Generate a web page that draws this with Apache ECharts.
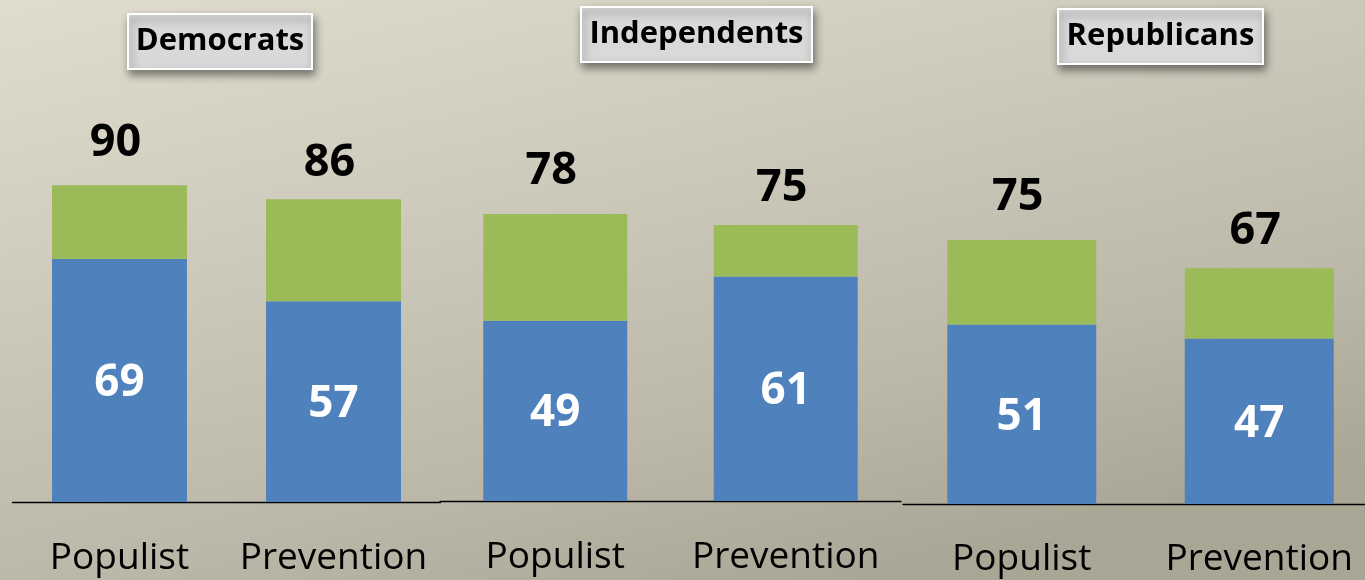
<!DOCTYPE html>
<html>
<head>
<meta charset="utf-8">
<script src="https://cdn.jsdelivr.net/npm/echarts@6/dist/echarts.min.js"></script>
<style>
html,body{margin:0;padding:0;}
#chart{width:1365px;height:580px;}
</style>
</head>
<body>
<div id="chart"></div>
<script>
// ---- data ----
const groups = ['Democrats', 'Independents', 'Republicans'];
const categories = ['Populist', 'Prevention'];
const blueValues = [[69, 57], [49, 61], [51, 47]];
const totalValues = [[90, 86], [78, 75], [75, 67]];

// ---- layout (per panel) ----
const panels = [
  { left: 12.5, width: 428, top: 150, height: 352, barWidth: 135, box: [127, 13, 184, 55], margin: 38 },
  { left: 440, width: 461, top: 133, height: 368, barWidth: 144, box: [580, 6, 231, 55], margin: 38 },
  { left: 903, width: 475, top: 152, height: 352, barWidth: 149, box: [1057, 8, 205, 55], margin: 37 }
];
const FONT = '"Open Sans", sans-serif';
const BLUE = '#4f81bd', GREEN = '#9bbb59';

const grid = [], xAxis = [], yAxis = [], series = [], graphic = [];
panels.forEach((p, i) => {
  grid.push({ left: p.left, top: p.top, width: p.width, height: p.height, outerBoundsMode: 'none', containLabel: false });
  xAxis.push({
    type: 'category', gridIndex: i, data: categories,
    axisLine: { show: true, lineStyle: { color: '#000', width: 1.3 } },
    axisTick: { show: false },
    axisLabel: { color: '#000', fontFamily: FONT, fontSize: 37, margin: p.margin, interval: 0 }
  });
  yAxis.push({ type: 'value', gridIndex: i, min: 0, max: 100, show: false, splitLine: { show: false } });
  const greens = totalValues[i].map((t, j) => t - blueValues[i][j]);
  series.push({
    type: 'bar', name: 'base' + i, stack: 's' + i, xAxisIndex: i, yAxisIndex: i,
    barWidth: p.barWidth, data: blueValues[i],
    itemStyle: { color: BLUE },
    label: { show: true, position: 'inside', color: '#fff', fontFamily: FONT, fontWeight: 'bold', fontSize: 44, offset: [0, 3] },
    silent: true
  });
  series.push({
    type: 'bar', name: 'top' + i, stack: 's' + i, xAxisIndex: i, yAxisIndex: i,
    barWidth: p.barWidth,
    data: greens.map((g, j) => ({
      value: g,
      label: { distance: j === 0 ? 20 : 14 }
    })),
    itemStyle: { color: GREEN },
    label: {
      show: true, position: 'top', color: '#000', fontFamily: FONT, fontWeight: 'bold', fontSize: 45,
      offset: [-4, 0],
      formatter: (prm) => String(totalValues[i][prm.dataIndex])
    },
    silent: true
  });
  const b = p.box;
  graphic.push({
    type: 'group', left: b[0], top: b[1],
    children: [
      { type: 'rect', shape: { x: 0, y: 0, width: b[2], height: b[3] },
        style: { fill: '#d9d9d9', stroke: '#ffffff', lineWidth: 2,
          shadowBlur: 8, shadowColor: 'rgba(0,0,0,0.45)', shadowOffsetX: 2, shadowOffsetY: 5 } },
      { type: 'text', x: b[2] / 2, y: b[3] / 2,
        style: { text: groups[i], fill: '#000', font: 'bold 31px ' + FONT, align: 'center', verticalAlign: 'middle' } }
    ]
  });
});

const chart = echarts.init(document.getElementById('chart'), null, { renderer: 'canvas' });
chart.setOption({
  animation: false,
  backgroundColor: {
    type: 'linear', x: 0, y: 0, x2: 0.13, y2: 1.29,
    colorStops: [
      { offset: 0, color: '#e0ddcf' },
      { offset: 0.26, color: '#d4d1c3' },
      { offset: 0.74, color: '#bcb9aa' },
      { offset: 1, color: '#a9a696' }
    ]
  },
  grid, xAxis, yAxis, series, graphic
});
</script>
</body>
</html>
